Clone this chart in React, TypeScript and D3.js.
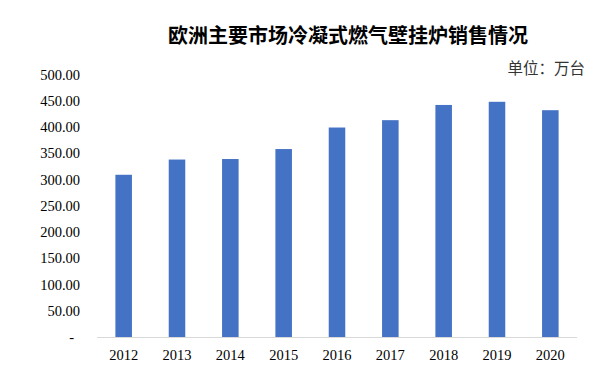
import * as d3 from 'd3'

const YEARS = ['2012', '2013', '2014', '2015', '2016', '2017', '2018', '2019', '2020']
const SALES = [309, 338, 339, 358, 399, 413, 442, 448, 432]
const Y_TICKS = [0, 50, 100, 150, 200, 250, 300, 350, 400, 450, 500]

const TITLE = '欧洲主要市场冷凝式燃气壁挂炉销售情况'
const UNIT = '单位：万台'

const WIDTH = 615
const HEIGHT = 366
const PLOT = { left: 97, right: 577, top: 74.5, bottom: 337 }
const BAR_COLOR = '#4472C4'
const NUM_FONT = '"Liberation Serif", "Times New Roman", serif'
const CJK_FONT = '"Noto Sans CJK SC", sans-serif'

function fmt(v: number): string {
  return v === 0 ? '-' : v.toFixed(2)
}

export default function App() {
  const x = d3
    .scaleBand()
    .domain(YEARS)
    .range([PLOT.left, PLOT.right])
    .paddingInner(0.69)
    .paddingOuter(0.345)

  const y = d3.scaleLinear().domain([0, 500]).range([PLOT.bottom, PLOT.top])

  return (
    <svg
      width={WIDTH}
      height={HEIGHT}
      style={{ position: 'absolute', left: 0, top: 0, background: '#fff' }}
    >
      <text
        x={348}
        y={43}
        textAnchor="middle"
        fontFamily={CJK_FONT}
        fontWeight="bold"
        fontSize={20}
        fill="#000"
      >
        {TITLE}
      </text>
      <text x={585} y={74} textAnchor="end" fontFamily={CJK_FONT} fontSize={15.5} fill="#333">
        {UNIT}
      </text>

      {/* y tick labels */}
      {Y_TICKS.map((t) => (
        <text
          key={t}
          x={t === 0 ? 74 : 80}
          y={y(t)}
          dy="0.35em"
          textAnchor="end"
          fontFamily={NUM_FONT}
          fontSize={14.5}
          fill="#000"
        >
          {fmt(t)}
        </text>
      ))}

      {/* bars */}
      {SALES.map((v, i) => (
        <rect
          key={YEARS[i]}
          x={x(YEARS[i]) ?? 0}
          y={y(v)}
          width={x.bandwidth()}
          height={PLOT.bottom - y(v)}
          fill={BAR_COLOR}
        />
      ))}

      {/* baseline */}
      <line x1={PLOT.left} x2={PLOT.right} y1={PLOT.bottom + 0.5} y2={PLOT.bottom + 0.5} stroke="#d9d9d9" />

      {/* x labels */}
      {YEARS.map((yr) => (
        <text
          key={yr}
          x={(x(yr) ?? 0) + x.bandwidth() / 2}
          y={360}
          textAnchor="middle"
          fontFamily={NUM_FONT}
          fontSize={14.5}
          fill="#000"
        >
          {yr}
        </text>
      ))}
    </svg>
  )
}
